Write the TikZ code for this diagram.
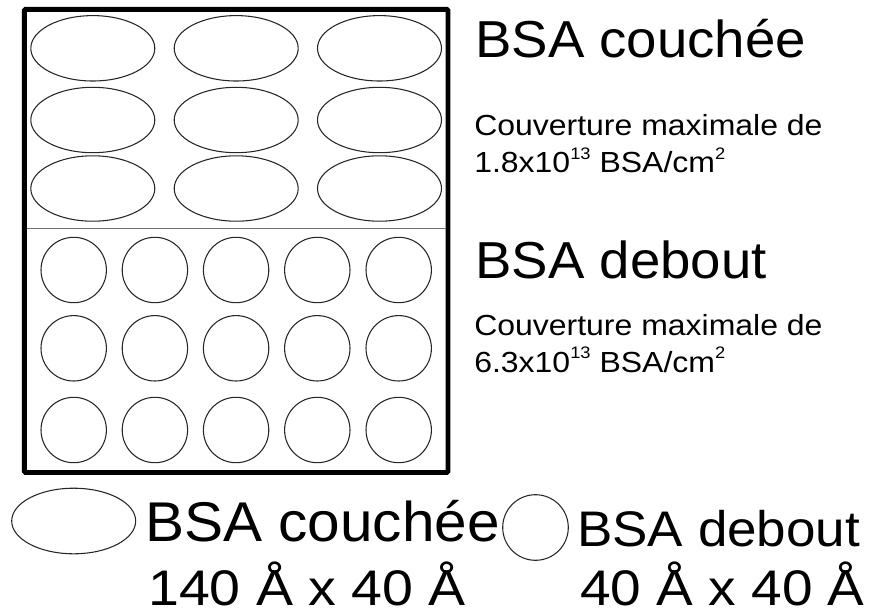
\documentclass[tikz,border=0pt]{standalone}
\usepackage{graphicx}
\usepackage{fontspec}
\setmainfont{Liberation Sans}
\newcommand\hstretch[2]{\scalebox{#1}[1]{#2}}
\newcommand\supr[1]{\raisebox{10pt}{\fontsize{12.5}{12.5}\selectfont #1}}
\begin{document}
\begin{tikzpicture}[x=0.75pt,y=-0.75pt,
  mol/.style={draw=black!85,line width=0.8pt},
  frame/.style={draw=black,line width=3.7pt,rounded corners=1pt},
  divider/.style={draw=black!55,line width=0.9pt},
  txt/.style={anchor=base west,inner sep=0pt},
  title/.style={txt,font=\fontsize{39}{44}\selectfont},
  small/.style={txt,font=\fontsize{21.8}{26}\selectfont},
  legend/.style={txt,font=\fontsize{42}{48}\selectfont},
  legendb/.style={txt,font=\fontsize{37.5}{42}\selectfont}]
\useasboundingbox (0,0) rectangle (875,611);
% frame
\draw[frame] (24.3,9.3) rectangle (448,472.5);
\draw[divider] (26.5,228.5) -- (445.5,228.5);
% lying BSA (ellipses)
\foreach \cx in {92.8,236.2,379.5}
  \foreach \cy in {48.3,120,188.5}
    \draw[mol] (\cx,\cy) ellipse [x radius=62, y radius=32.7];
% standing BSA (circles)
\foreach \cx in {73.7,154.9,236.1,317.3,398.7}
  \foreach \cy in {270,348.3,430}
    \draw[mol] (\cx,\cy) circle [radius=32.7];
% right texts
\node[title] (t1) at (475,57.3) {\hstretch{1.05}{BSA couchée}};
\node[small] (s1) at (474,135) {\hstretch{1.1}{Couverture maximale de}};
\node[small] (s2) at (474,172.7) {\hstretch{1.1}{1.8x10\supr{13} BSA/cm\supr{2}}};
\node[title] (t2) at (475,278.3) {\hstretch{1.05}{BSA debout}};
\node[small] (s3) at (474,335.5) {\hstretch{1.1}{Couverture maximale de}};
\node[small] (s4) at (474,372) {\hstretch{1.1}{6.3x10\supr{13} BSA/cm\supr{2}}};
% legend
\draw[mol] (73.7,521) ellipse [x radius=62, y radius=32.8];
\node[legend] (l1) at (145,541.7) {\hstretch{1.045}{BSA couchée}};
\node[legendb] (l2) at (148,605) {\hstretch{1.11}{140 Å x 40 Å}};
\draw[mol] (535.5,527.5) circle [radius=32.8];
\node[legendb] (l3) at (577,546) {\hstretch{1.06}{BSA debout}};
\node[legendb] (l4) at (580,605) {\hstretch{1.1}{40 Å x 40 Å}};
\end{tikzpicture}
\end{document}
